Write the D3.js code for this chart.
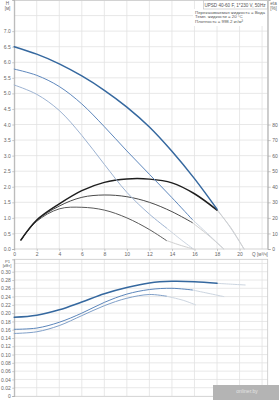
<!DOCTYPE html>
<html><head><meta charset="utf-8">
<script src="https://cdn.jsdelivr.net/npm/d3@7"></script>
<style>
html,body{margin:0;padding:0;background:#fff;}
svg{display:block;font-family:"Liberation Sans",Arial,sans-serif;}
</style></head>
<body><svg id="c" width="279" height="400"></svg>
<script>
// ---- data ----
const qTicks = [0,2,4,6,8,10,12,14,16,18,20];
const qGrid = [2,4,6,8,10,12,14,16,18,20,22];
const hTicks = [0,0.5,1,1.5,2,2.5,3,3.5,4,4.5,5,5.5,6,6.5,7];
const hGrid = [0.5,1,1.5,2,2.5,3,3.5,4,4.5,5,5.5,6,6.5,7,7.5];
const etaTicks = [0,10,20,30,40,50,60,70,80];
const pTicks = [0,0.02,0.04,0.06,0.08,0.10,0.12,0.14,0.16,0.18,0.20,0.22,0.24,0.26,0.28,0.30];
const pGrid = [0.02,0.04,0.06,0.08,0.10,0.12,0.14,0.16,0.18,0.20,0.22,0.24,0.26,0.28,0.30,0.32];

// head curves (H, m)
const hMaxQ = [0,2,4,6,8,10,12,14,16,18];
const hMax  = [6.5,6.26,5.95,5.56,5.1,4.56,3.92,3.14,2.26,1.28];
const hMaxTailQ = [18,19.2,20.4];
const hMaxTail  = [1.28,0.68,0];
const hMidQ = [0,2,4,6,8,10,12,14,15.8];
const hMid  = [5.78,5.58,5.22,4.66,3.93,3.15,2.4,1.65,0.95];
const hMidTailQ = [15.8,17.2,18.6];
const hMidTail  = [0.95,0.48,0];
const hLowQ = [0,2,4,6,8,10,12,13.5];
const hLow  = [5.27,4.97,4.45,3.65,2.72,1.82,1.12,0.68];
const hLowTailQ = [13.5,14.7,15.9];
const hLowTail  = [0.68,0.33,0];

// efficiency curves (eta, %)
const eMaxQ = [0.6,2,4,6,8,10,12,14,16,18];
const eMax  = [5.8,18.6,29,37.5,42.8,45,44.9,42.5,35.5,25];
const eMaxTailQ = [18,19.2,20.4];
const eMaxTail  = [25,14,0];
const eMidQ = [0.6,2,4,6,8,10,12,14,15.8];
const eMid  = [5.8,18.3,27.6,33.2,34.7,33.6,30,24,17];
const eMidTailQ = [15.8,17.2,18.6];
const eMidTail  = [17,9,0];
const eLowQ = [0.6,2,4,6,8,10,12,13.5];
const eLow  = [5.8,17.8,25.8,26.8,25,20,12.5,5.5];
const eLowTailQ = [13.5,14.7,15.9];
const eLowTail  = [5.5,2.5,0];

// power curves (P1, kW)
const pMaxQ = [0,2,4,6,8,10,12,14,16,18];
const pMax  = [0.190,0.195,0.208,0.227,0.247,0.262,0.273,0.277,0.276,0.272];
const pMaxTailQ = [18,19.2,20.5];
const pMaxTail  = [0.272,0.270,0.268];
const pMidQ = [0,2,4,6,8,10,12,14,15.8];
const pMid  = [0.161,0.164,0.178,0.200,0.226,0.246,0.257,0.260,0.256];
const pMidTailQ = [15.8,17.2,18.6];
const pMidTail  = [0.256,0.248,0.240];
const pLowQ = [0,2,4,6,8,10,12,13.5];
const pLow  = [0.151,0.155,0.170,0.194,0.218,0.236,0.245,0.241];
const pLowTailQ = [13.5,15,16.1];
const pLowTail  = [0.241,0.231,0.220];

const titleText = "UPSD 40-60 F, 1*230 V, 50Hz";
const infoLines = ["Перекачиваемая жидкость = Вода","Темп. жидкости = 20 °C","Плотность = 998.2 кг/м³"];

// ---- drawing ----
const svg = d3.select("#c");
const X0 = 14.2, X1 = 267.7;
const x = d3.scaleLinear().domain([0,22.5]).range([X0,X1]);
const yH = d3.scaleLinear().domain([0,8]).range([249,0]);
const yE = d3.scaleLinear().domain([0,160]).range([249,0]);
const yP = d3.scaleLinear().domain([0,0.33]).range([396,259.3]);

const gridC = "#e2e2e2", txtC = "#666", fs = 5;

function panel(top, bottom, yScale, grid){
  const g = svg.append("g");
  g.selectAll(".hg").data(grid).join("line")
    .attr("x1",X0).attr("x2",X1).attr("y1",d=>yScale(d)).attr("y2",d=>yScale(d))
    .attr("stroke",gridC).attr("stroke-width",0.8);
  g.selectAll(".vg").data(qGrid).join("line")
    .attr("x1",d=>x(d)).attr("x2",d=>x(d)).attr("y1",top).attr("y2",bottom)
    .attr("stroke",gridC).attr("stroke-width",0.8);
  return g;
}
panel(0.5,249,yH,hGrid);
panel(259.3,396,yP,pGrid);

// legend box background
svg.append("rect").attr("x",193).attr("y",9).attr("width",74).attr("height",17).attr("fill","#fff");
svg.append("rect").attr("x",203.5).attr("y",0.5).attr("width",64).attr("height",8.5)
  .attr("fill","#fff").attr("stroke","#bbb").attr("stroke-width",0.6);
svg.append("text").attr("x",265.5).attr("y",6.6).attr("text-anchor","end")
  .attr("font-size",4.6).attr("fill","#555").text(titleText);
svg.selectAll(".info").data(infoLines).join("text")
  .attr("x",195).attr("y",(d,i)=>13.5+i*4.6).attr("font-size",4.4).attr("fill","#555").text(d=>d);

// frames
svg.append("rect").attr("x",X0).attr("y",0.5).attr("width",X1-X0).attr("height",248.5)
  .attr("fill","none").attr("stroke","#c8c8c8").attr("stroke-width",0.8);
svg.append("rect").attr("x",X0).attr("y",259.3).attr("width",X1-X0).attr("height",137)
  .attr("fill","none").attr("stroke","#c8c8c8").attr("stroke-width",0.8);

// axes
const axL = d3.axisLeft(yH).tickValues(hTicks).tickFormat(d3.format(".1f")).tickSize(2).tickPadding(1.5);
const gL = svg.append("g").attr("transform",`translate(${X0},0)`).call(axL);
const axR = d3.axisRight(yE).tickValues(etaTicks).tickFormat(d3.format("d")).tickSize(3).tickPadding(1.5);
const gR = svg.append("g").attr("transform",`translate(${X1},0)`).call(axR);
const axB = d3.axisBottom(x).tickValues(qTicks).tickFormat(d3.format("d")).tickSize(2).tickPadding(1);
const gB = svg.append("g").attr("transform",`translate(0,249)`).call(axB);
const axP = d3.axisLeft(yP).tickValues(pTicks).tickFormat(d=>d===0?"0":d3.format(".2f")(d)).tickSize(2).tickPadding(1.5);
const gP = svg.append("g").attr("transform",`translate(${X0},0)`).call(axP);
[gL,gR,gB,gP].forEach(g=>{
  g.select(".domain").attr("stroke","#aaa").attr("stroke-width",0.8);
  g.selectAll(".tick line").attr("stroke","#aaa").attr("stroke-width",0.6);
  g.selectAll(".tick text").attr("font-size",fs).attr("fill",txtC).attr("font-family","Liberation Sans, Arial, sans-serif");
});
gB.select(".domain").remove();

// axis titles
const lab = (t,xx,yy,anchor,size)=>svg.append("text").attr("x",xx).attr("y",yy).attr("font-size",size||4.6)
  .attr("fill",txtC).attr("text-anchor",anchor||"middle").text(t);
lab("H",7.5,4.5); lab("[м]",7.5,9.5);
lab("eta",273.5,4.5); lab("[%]",273.5,9.5);
lab("Q [м³/ч]",260,256);
lab("P1",7.5,263.2,"middle",4.2); lab("[кВт]",7,267.4,"middle",4.2);

// curves
const lineGen = d3.line().curve(d3.curveCatmullRom.alpha(0.5));
function curve(qs, vs, ys, color, w){
  const pts = qs.map((q,i)=>[x(q), ys(vs[i])]);
  svg.append("path").attr("d", lineGen(pts))
    .attr("fill","none").attr("stroke",color).attr("stroke-width",w).attr("stroke-linecap","round");
}
const tailB = "#ccd5e0", tailG = "#d0d0d0";
// tails first
curve(hMaxTailQ,hMaxTail,yH,tailB,1); curve(hMidTailQ,hMidTail,yH,tailB,1); curve(hLowTailQ,hLowTail,yH,tailB,1);
curve(eMaxTailQ,eMaxTail,yE,tailG,1); curve(eMidTailQ,eMidTail,yE,tailG,1); curve(eLowTailQ,eLowTail,yE,tailG,1);
curve(pMaxTailQ,pMaxTail,yP,tailB,1); curve(pMidTailQ,pMidTail,yP,tailB,1); curve(pLowTailQ,pLowTail,yP,tailB,1);
// efficiency
curve(eLowQ,eLow,yE,"#5a5a5a",1);
curve(eMidQ,eMid,yE,"#4a4a4a",1);
curve(eMaxQ,eMax,yE,"#1e1e1e",1.5);
// head
curve(hLowQ,hLow,yH,"#9db3d2",1);
curve(hMidQ,hMid,yH,"#5f88bd",1);
curve(hMaxQ,hMax,yH,"#35689f",1.5);
// power
curve(pLowQ,pLow,yP,"#7f9fc8",1);
curve(pMidQ,pMid,yP,"#5c86bb",1);
curve(pMaxQ,pMax,yP,"#35689f",1.5);

// watermark
svg.append("rect").attr("x",213).attr("y",385).attr("width",66).attr("height",15).attr("fill","#b4b4b4");
svg.append("text").attr("x",247).attr("y",392.5).attr("text-anchor","middle").attr("font-size",5)
  .attr("fill","#e4e4e4").text("onliner.by");
</script></body></html>
